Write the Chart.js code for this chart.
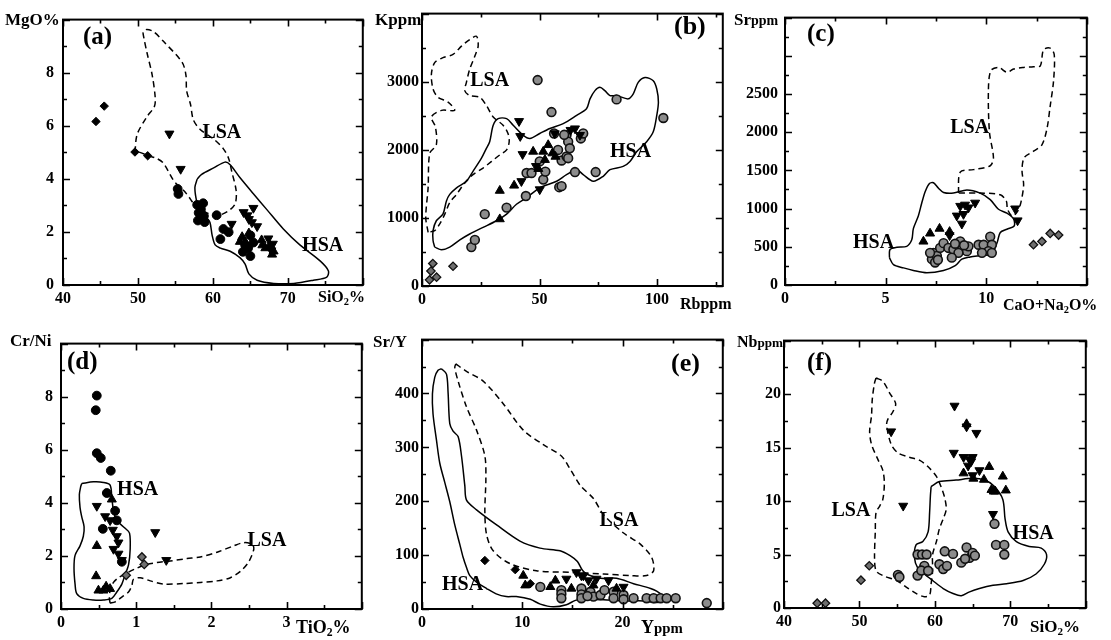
<!DOCTYPE html>
<html>
<head>
<meta charset="utf-8">
<script src="https://cdn.jsdelivr.net/npm/chart.js@4.4.1/dist/chart.umd.min.js"></script>
<style>
  html, body { margin: 0; padding: 0; background: #fff; }
  #page { position: relative; width: 1111px; height: 640px; overflow: hidden; background: #fff; }
  #page canvas { position: absolute; }
  .t { position: absolute; font-family: "Liberation Serif", "Times New Roman", serif; font-weight: bold;
       color: #000; white-space: nowrap; line-height: 1; }
  .t sub { font-size: 0.65em; vertical-align: -0.25em; line-height: 0; }
  .t small { font-size: 0.82em; }
</style>
</head>
<body>
<div id="page"></div>
<script>
// ---------- (a) MgO% vs SiO2% ----------
const aXTicks = [40, 50, 60, 70];
const aYTicks = [0, 2, 4, 6, 8];
const aDiamond = [[44.4, 6.16], [45.5, 6.74], [49.6, 5.01], [51.3, 4.87]];
const aInvTri = [[54.2, 5.7], [55.7, 4.37], [62.5, 2.3], [64.1, 2.74], [64.6, 2.62], [65.4, 2.9], [64.8, 2.48],
  [65.2, 2.36], [65.9, 2.21], [67.4, 1.75], [68.0, 1.55], [67.8, 1.3]];
const aTri = [[63.6, 1.63], [63.9, 1.81], [64.3, 1.63], [64.8, 1.95], [66.5, 1.69], [66.6, 1.5], [67.0, 1.39],
  [67.6, 1.51], [68.1, 1.27], [67.9, 1.15]];
const aCircle = [[55.3, 3.62], [55.4, 3.43], [57.9, 3.02], [58.7, 3.08], [58.1, 2.72], [58.8, 2.6], [58.0, 2.43],
  [58.9, 2.37], [58.4, 2.85], [60.5, 2.63], [61.4, 2.11], [61.0, 1.73], [62.1, 1.99], [65.0, 1.87], [64.7, 1.39],
  [65.0, 1.09], [64.3, 1.5], [65.4, 1.6], [64.0, 1.25]];
const aLSA = [[49.6, 5.01], [49.9, 5.68], [51.2, 6.34], [52.2, 6.73], [52.3, 7.07], [51.9, 7.91], [51.2, 8.76],
  [50.8, 9.3], [50.7, 9.54], [51.2, 9.63], [52.1, 9.54], [53.4, 9.18], [55.9, 8.39], [56.4, 7.91], [56.5, 7.31],
  [57.0, 6.82], [57.4, 6.22], [58.3, 5.86], [60.1, 5.5], [61.4, 5.13], [62.1, 4.77], [62.5, 4.29], [63.1, 3.56],
  [63.0, 3.08], [62.3, 2.84], [61.2, 2.66], [60.1, 2.6], [59.2, 2.72], [58.3, 2.84], [57.4, 3.08], [56.8, 3.32],
  [56.1, 3.56], [54.8, 3.92], [53.4, 4.59], [52.5, 4.77], [51.4, 4.87], [50.1, 5.01]];
const aHSA = [[57.9, 3.99], [58.5, 4.17], [60.1, 4.41], [61.6, 4.63], [62.3, 4.53], [63.6, 4.05], [65.4, 3.44],
  [67.2, 2.84], [69.4, 2.11], [71.6, 1.51], [74.3, 0.91], [75.4, 0.54], [75.2, 0.3], [73.4, 0.18], [70.8, 0.06],
  [68.1, 0.06], [65.9, 0.18], [64.8, 0.42], [64.3, 0.79], [63.6, 1.03], [62.3, 1.27], [61.0, 1.39], [60.3, 1.51],
  [59.9, 1.87], [59.6, 2.36], [59.0, 2.6], [58.2, 2.84], [57.8, 3.2], [57.6, 3.68]];

// ---------- (b) K ppm vs Rb ppm ----------
const bXTicks = [0, 50, 100];
const bYTicks = [0, 1000, 2000, 3000];
const bDiamond = [[3.2, 90], [3.8, 220], [4.6, 330], [6.2, 130], [13.2, 290]];
const bInvTri = [[41.3, 2420], [41.8, 2200], [42.8, 1935], [42.3, 1538], [50.1, 1418], [56.5, 2240], [65.1, 2312],
  [67.2, 2216], [63.2, 2290], [48.5, 1760]];
const bTri = [[33.1, 982], [33.1, 1400], [39.2, 1476], [47.3, 1974], [51.6, 1974], [53.7, 2071], [52.3, 1853],
  [49.5, 1720], [55.5, 1950], [56.8, 1900]];
const bCircle = [[21.0, 571], [22.5, 677], [26.7, 1055], [36.0, 1151], [44.2, 1321], [44.5, 1659], [46.6, 1659],
  [51.6, 1563], [49.2, 3024], [55.1, 2554], [56.2, 2240], [57.9, 1998], [59.4, 1843], [58.4, 1451], [59.4, 1466],
  [61.5, 1901], [62.2, 1877], [61.5, 2216], [62.2, 2119], [62.9, 2022], [65.1, 1673], [67.6, 2167], [68.6, 2240],
  [73.9, 1673], [82.8, 2740], [102.7, 2467], [50.1, 1829], [60.5, 2220], [52.5, 1680]];
const bLSA = [[2.6, 789], [1.6, 1007], [2.6, 1442], [3.3, 1950], [6.1, 2071], [5.7, 2337], [4.0, 2482], [8.3, 2579],
  [13.9, 2579], [11.1, 2700], [6.8, 2772], [4.7, 2893], [4.0, 3110], [5.4, 3280], [8.9, 3353], [13.2, 3401],
  [16.8, 3522], [20.3, 3619], [23.2, 3667], [23.9, 3522], [22.5, 3377], [20.3, 3183], [18.9, 2990], [18.2, 2869],
  [20.3, 2796], [24.6, 2772], [27.4, 2651], [30.3, 2482], [34.5, 2361], [36.6, 2240], [37.1, 2119], [36.0, 1998],
  [33.1, 1925], [29.6, 1829], [26.0, 1732], [21.7, 1635], [18.2, 1514], [14.7, 1345], [11.8, 1224], [9.7, 1055],
  [7.5, 910], [5.4, 813]];
const bHSA = [[5.4, 571], [8.3, 532], [11.8, 571], [16.1, 677], [20.3, 764], [26.0, 861], [31.7, 958], [36.0, 1055],
  [40.2, 1200], [44.5, 1297], [50.1, 1442], [57.3, 1538], [61.5, 1635], [65.8, 1708], [68.6, 1635], [72.9, 1538],
  [77.1, 1611], [80.0, 1708], [85.6, 1756], [88.5, 1829], [91.4, 1974], [95.6, 2119], [98.4, 2264], [99.9, 2506],
  [100.6, 2700], [99.9, 2893], [98.4, 3014], [94.9, 3062], [92.0, 2990], [89.9, 2821], [87.8, 2748], [82.8, 2796],
  [80.0, 2796], [77.8, 2869], [75.7, 2917], [73.6, 2869], [71.5, 2748], [70.0, 2603], [65.8, 2506], [60.1, 2385],
  [54.4, 2312], [50.1, 2240], [45.9, 2167], [43.0, 2216], [38.8, 2361], [36.0, 2457], [32.4, 2457], [30.3, 2361],
  [28.8, 2119], [27.4, 2022], [25.3, 1877], [21.7, 1684], [18.9, 1538], [14.7, 1442], [11.8, 1345], [10.4, 1248],
  [8.9, 1055], [6.1, 958], [4.7, 813], [4.7, 668]];

// ---------- (c) Sr ppm vs CaO+Na2O% ----------
const cXTicks = [0, 5, 10];
const cYTicks = [0, 500, 1000, 1500, 2000, 2500];
const cDiamond = [[12.35, 527], [12.77, 570], [13.18, 675], [13.6, 654]];
const cInvTri = [[8.71, 1034], [9.12, 1013], [9.45, 1076], [8.87, 928], [8.54, 907], [8.79, 801], [8.18, 650],
  [11.44, 1000], [11.56, 844], [8.95, 1050]];
const cTri = [[6.88, 570], [7.21, 675], [7.68, 738], [8.18, 696]];
const cCircle = [[7.38, 421], [7.3, 338], [7.55, 380], [7.71, 485], [7.88, 548], [8.12, 485], [8.37, 464], [8.71, 570],
  [8.79, 464], [9.04, 443], [8.62, 421], [9.12, 506], [9.62, 527], [9.87, 527], [10.2, 633], [10.28, 527], [10.11, 443],
  [9.79, 421], [10.28, 421], [8.29, 358], [7.21, 421], [7.46, 295], [7.6, 330], [8.9, 520], [8.45, 540]];
const cLSA = [[8.62, 1203], [8.71, 1477], [9.37, 1510], [10.2, 1561], [10.36, 1667], [10.16, 2004], [10.11, 2553],
  [10.23, 2806], [10.61, 2848], [11.03, 2785], [11.36, 2827], [11.86, 2848], [12.35, 2857], [12.69, 2869],
  [12.85, 3080], [13.18, 3101], [13.38, 3017], [13.35, 2679], [13.18, 2342], [13.02, 2046], [12.77, 1835],
  [12.35, 1751], [11.89, 1667], [11.78, 1498], [11.86, 1308], [11.72, 1076], [11.55, 960], [11.3, 900],
  [11.06, 991], [11.0, 1100], [10.7, 1181], [9.7, 1203]];
const cHSA = [[5.19, 359], [5.22, 464], [5.56, 494], [6.05, 506], [6.30, 591], [6.38, 738], [6.63, 907], [6.80, 1076],
  [6.97, 1224], [7.18, 1329], [7.38, 1338], [7.63, 1266], [7.88, 1211], [8.37, 1203], [9.04, 1245], [9.70, 1203],
  [10.2, 1118], [10.61, 991], [11.03, 941], [11.36, 865], [11.39, 772], [11.03, 730], [10.70, 688], [10.56, 570],
  [10.36, 443], [10.03, 392], [9.54, 380], [9.20, 367], [8.79, 338], [8.46, 253], [7.88, 190], [7.05, 160],
  [6.38, 190], [5.89, 224], [5.39, 266]];

// ---------- (d) Cr/Ni vs TiO2% ----------
const dXTicks = [0, 1, 2, 3];
const dYTicks = [0, 2, 4, 6, 8];
const dDiamond = [[1.076, 1.96], [1.107, 1.68], [0.867, 1.27]];
const dInvTri = [[0.476, 3.88], [0.587, 3.49], [0.653, 3.34], [0.689, 2.98], [0.742, 2.74], [0.764, 2.5],
  [0.698, 2.26], [0.764, 2.08], [0.809, 1.84], [1.253, 2.89], [1.4, 1.84]];
const dTri = [[0.476, 2.38], [0.467, 1.24], [0.498, 0.7], [0.564, 0.7], [0.653, 0.76], [0.676, 4.13], [0.6, 0.85]];
const dCircle = [[0.476, 8.04], [0.462, 7.49], [0.476, 5.87], [0.529, 5.69], [0.662, 5.21], [0.609, 4.37],
  [0.72, 3.70], [0.742, 3.34], [0.556, 3.02], [0.809, 1.78]];
const dLSA = [[0.653, 0.22], [0.72, 0.27], [0.809, 0.45], [0.898, 0.64], [0.942, 0.88], [0.964, 1.12], [1.053, 1.18],
  [1.187, 1.06], [1.364, 0.94], [1.631, 0.96], [1.853, 1.0], [2.076, 1.06], [2.253, 1.18], [2.387, 1.42],
  [2.497, 1.78], [2.564, 2.26], [2.542, 2.44], [2.431, 2.5], [2.297, 2.38], [2.076, 2.14], [1.853, 1.96],
  [1.676, 1.9], [1.453, 1.81], [1.276, 1.75], [1.142, 1.68], [1.009, 1.54], [0.876, 1.36], [0.764, 1.18],
  [0.698, 1.0], [0.653, 0.7], [0.644, 0.4]];
const dHSA = [[0.276, 4.73], [0.431, 4.79], [0.564, 4.77], [0.653, 4.67], [0.676, 4.19], [0.698, 3.70], [0.742, 3.34],
  [0.853, 3.04], [0.911, 2.86], [0.92, 2.26], [0.898, 1.66], [0.853, 1.30], [0.809, 0.94], [0.742, 0.64],
  [0.676, 0.40], [0.564, 0.34], [0.431, 0.34], [0.297, 0.40], [0.209, 0.58], [0.187, 0.94], [0.173, 1.54],
  [0.187, 2.02], [0.253, 2.38], [0.297, 2.74], [0.307, 3.10], [0.276, 3.47], [0.253, 3.83], [0.244, 4.31],
  [0.262, 4.61]];

// ---------- (e) Sr/Y vs Y ppm ----------
const eXTicks = [0, 10, 20];
const eYTicks = [0, 100, 200, 300, 400];
const eDiamond = [[6.27, 90], [9.3, 73], [10.8, 47]];
const eInvTri = [[14.4, 56], [15.4, 68], [16.1, 62], [16.6, 53], [17.4, 56], [18.6, 53], [20.1, 41], [15.9, 62]];
const eTri = [[10.1, 62], [10.3, 44], [12.8, 41], [13.3, 53], [14.9, 38], [17.1, 44], [19.4, 38]];
const eCircle = [[11.8, 41], [13.9, 35], [13.9, 28], [13.9, 20], [15.9, 38], [15.9, 27], [15.9, 20], [16.8, 32],
  [17.1, 23], [17.8, 26], [19.1, 32], [19.1, 20], [20.1, 26], [20.1, 18], [21.1, 20], [22.4, 20], [23.1, 20],
  [23.8, 20], [24.4, 20], [25.3, 20], [28.4, 11], [18.2, 35], [16.5, 24]];
const eLSA = [[3.37, 455], [4.44, 441], [6.1, 423], [8.1, 381], [10.1, 332], [12.1, 305], [13.9, 284], [14.8, 259],
  [15.8, 229], [17.1, 205], [18.1, 175], [20.1, 141], [21.8, 120], [22.9, 96], [23.1, 71], [22.4, 62], [20.8, 62],
  [18.1, 65], [14.8, 68], [11.4, 71], [8.8, 84], [7.1, 108], [6.44, 138], [6.27, 181], [6.37, 241], [6.27, 284],
  [5.44, 332], [4.44, 375], [3.6, 423], [3.27, 448]];
const eHSA = [[1.94, 446], [2.44, 436], [2.6, 402], [2.77, 344], [3.1, 330], [3.6, 320], [3.94, 284], [4.27, 229],
  [4.44, 202], [5.44, 184], [7.44, 156], [9.77, 126], [11.77, 113], [13.77, 108], [14.77, 99], [15.5, 88], [16.0, 72],
  [16.5, 64], [17.8, 57], [19.4, 57], [21.1, 47], [22.8, 38], [23.8, 28], [24.1, 16], [23.4, 12], [22.1, 15],
  [20.1, 15], [18.1, 17], [16.1, 18], [15.3, 16], [14.4, 8], [13.1, 4], [11.8, 9], [10.8, 18], [9.4, 23], [8.4, 23],
  [7.4, 28], [6.44, 38], [5.44, 50], [4.77, 62], [4.44, 77], [4.1, 96], [3.77, 120], [3.27, 156], [2.77, 199],
  [2.27, 235], [1.77, 271], [1.44, 314], [1.1, 362], [1.04, 399], [1.27, 430], [1.6, 443]];

// ---------- (f) Nb ppm vs SiO2% ----------
const fXTicks = [40, 50, 60, 70];
const fYTicks = [0, 5, 10, 15, 20];
const fDiamond = [[44.4, 0.45], [45.5, 0.45], [50.2, 2.6], [51.3, 3.95]];
const fInvTri = [[62.6, 18.9], [64.2, 16.96], [65.5, 16.36], [62.5, 14.5], [54.2, 16.5], [55.8, 9.55], [67.7, 8.78],
  [63.8, 14.1], [64.6, 13.9], [65.0, 14.1], [64.4, 13.3], [65.9, 12.87], [65.0, 12.4], [64.8, 13.7]];
const fTri = [[63.8, 12.6], [67.2, 13.2], [66.5, 12.0], [68.0, 10.9], [67.5, 11.05], [69.0, 12.3], [69.4, 11.0],
  [64.2, 17.2], [65.1, 12.1], [67.8, 10.9]];
const fCircle = [[55.1, 3.1], [55.3, 2.9], [57.7, 5.0], [58.3, 5.0], [58.9, 5.0], [58.6, 3.94], [57.7, 3.03],
  [58.2, 3.5], [59.1, 3.48], [60.6, 4.09], [61.3, 5.3], [61.1, 3.64], [61.6, 3.94], [62.4, 5.06], [63.5, 4.24],
  [64.2, 5.66], [64.6, 4.69], [65.0, 5.15], [64.0, 4.6], [65.3, 4.9], [68.1, 5.9], [67.9, 7.87], [69.2, 5.9],
  [69.2, 5.0]];
const fLSA = [[52.2, 21.5], [53.1, 21.2], [54.0, 20.1], [54.8, 19.1], [54.4, 18.3], [53.8, 17.7], [53.6, 17.1],
  [54.2, 15.3], [55.1, 14.5], [56.6, 14.1], [58.0, 13.8], [59.1, 13.2], [60.2, 12.3], [60.8, 11.36], [61.3, 10.3],
  [61.5, 9.24], [61.1, 8.33], [60.6, 7.42], [60.2, 6.21], [59.7, 5.0], [59.7, 3.48], [59.5, 2.27], [59.3, 1.21],
  [58.6, 1.05], [57.5, 1.36], [56.2, 1.96], [54.9, 2.57], [53.1, 3.03], [52.2, 3.48], [52.0, 4.69], [52.1, 7.12],
  [52.2, 8.94], [52.7, 9.55], [53.1, 10.15], [53.3, 11.66], [53.1, 12.87], [52.5, 13.8], [51.6, 15.3],
  [51.35, 16.5], [51.6, 18.0], [51.7, 19.5], [52.0, 21.05]];
const fHSA = [[59.5, 11.36], [60.6, 11.82], [62.8, 11.96], [65.0, 12.12], [66.6, 11.96], [67.9, 11.36], [69.0, 10.15],
  [69.3, 8.33], [69.7, 7.12], [70.8, 6.21], [72.5, 5.75], [74.1, 5.6], [74.8, 5.0], [74.5, 4.09], [73.4, 3.18],
  [71.7, 2.57], [69.5, 2.27], [67.7, 2.12], [65.9, 1.82], [64.6, 1.51], [63.5, 1.15], [62.4, 1.36], [61.1, 1.82],
  [59.7, 2.57], [58.6, 3.18], [57.7, 3.78], [57.3, 4.69], [57.5, 5.9], [58.4, 6.21], [59.1, 7.12], [59.3, 8.94],
  [59.4, 10.45]];

const serif = '"Liberation Serif", "Times New Roman", serif';

// marker looks for the sample groups
const marks = {
  dia:  { pointStyle: 'rectRot', pointRadius: 4.2, pointBackgroundColor: '#000', pointBorderColor: '#000', pointBorderWidth: 1 },
  diaG: { pointStyle: 'rectRot', pointRadius: 4.2, pointBackgroundColor: '#6f6f6f', pointBorderColor: '#111', pointBorderWidth: 1.3 },
  inv:  { pointStyle: 'triangle', pointRotation: 180, pointRadius: 5.2, pointBackgroundColor: '#000', pointBorderColor: '#000', pointBorderWidth: 1 },
  tri:  { pointStyle: 'triangle', pointRadius: 5.2, pointBackgroundColor: '#000', pointBorderColor: '#000', pointBorderWidth: 1 },
  dot:  { pointStyle: 'circle', pointRadius: 4.4, pointBackgroundColor: '#000', pointBorderColor: '#000', pointBorderWidth: 1 },
  ring: { pointStyle: 'circle', pointRadius: 4.4, pointBackgroundColor: '#8c8c8c', pointBorderColor: '#111', pointBorderWidth: 1.6 }
};

// box = [plot left, plot top, plot width, plot height]; x/y = [min, max, minor step, major step]
const panels = [
  { box: [63, 7, 300, 278], x: [40, 80, 5, 10], y: [0, 10, 1, 2], xTicks: aXTicks, yTicks: aYTicks, yPad: 9,
    fields: [[aHSA, []], [aLSA, [6, 4]]],
    groups: [[aDiamond, 'dia'], [aInvTri, 'inv'], [aTri, 'tri'], [aCircle, 'dot']],
    names: [['LSA', 58.6, 5.72], ['HSA', 71.9, 1.49]] },
  { box: [422, 7, 301, 279], x: [0, 128, 25, 50], y: [0, 4000, 500, 1000], xTicks: bXTicks, yTicks: bYTicks, yPad: 3,
    fields: [[bHSA, []], [bLSA, [6, 4]]],
    groups: [[bDiamond, 'diaG'], [bInvTri, 'inv'], [bTri, 'tri'], [bCircle, 'ring']],
    names: [['LSA', 20.5, 3018], ['HSA', 80, 1974]] },
  { box: [785, 7, 302, 278], x: [0, 15, 2.5, 5], y: [0, 3500, 250, 500], xTicks: cXTicks, yTicks: cYTicks, yPad: 7,
    fields: [[cHSA, []], [cLSA, [6, 4]]],
    groups: [[cDiamond, 'diaG'], [cInvTri, 'inv'], [cTri, 'tri'], [cCircle, 'ring']],
    names: [['LSA', 8.21, 2063], ['HSA', 3.38, 557]] },
  { box: [61, 332, 301, 277], x: [0, 4, 0.5, 1], y: [0, 10, 1, 2], xTicks: dXTicks, yTicks: dYTicks, yPad: 8,
    fields: [[dHSA, []], [dLSA, [6, 4]]],
    groups: [[dDiamond, 'diaG'], [dInvTri, 'inv'], [dTri, 'tri'], [dCircle, 'dot']],
    names: [['HSA', 0.746, 4.49], ['LSA', 2.48, 2.57]] },
  { box: [422, 333, 301, 276], x: [0, 30, 5, 10], y: [0, 500, 50, 100], xTicks: eXTicks, yTicks: eYTicks, yPad: 3,
    fields: [[eHSA, []], [eLSA, [6, 4]]],
    groups: [[eDiamond, 'dia'], [eInvTri, 'inv'], [eTri, 'tri'], [eCircle, 'ring']],
    names: [['LSA', 17.7, 164], ['HSA', 2.0, 44]] },
  { box: [784, 334, 302, 274], x: [40, 80, 5, 10], y: [0, 25, 2.5, 5], xTicks: fXTicks, yTicks: fYTicks, yPad: 3,
    fields: [[fHSA, []], [fLSA, [6, 4]]],
    groups: [[fDiamond, 'diaG'], [fInvTri, 'inv'], [fTri, 'tri'], [fCircle, 'ring']],
    names: [['LSA', 46.3, 9.1], ['HSA', 70.3, 6.9]] }
];

// axis names and panel letters: [html, left, baseline, size]
const axisNames = [
  ['MgO%', 5, 25, 17], ['SiO<sub>2</sub>%', 318, 302, 16],
  ['Kppm', 375, 25, 17], ['Rbppm', 680, 309, 16],
  ['Sr<small>ppm</small>', 734, 25, 17], ['CaO+Na<sub>2</sub>O%', 1003, 310, 16],
  ['Cr/Ni', 10, 346, 17], ['TiO<sub>2</sub>%', 296, 633, 18],
  ['Sr/Y', 373, 347, 17], ['Y<small>ppm</small>', 641, 633, 18],
  ['Nb<small>ppm</small>', 737, 347, 16], ['SiO<sub>2</sub>%', 1030, 632, 17]
];
const letters = [['(a)', 83, 44, 25], ['(b)', 674, 35, 26], ['(c)', 807, 41, 25],
  ['(d)', 67, 369, 25], ['(e)', 671, 372, 26], ['(f)', 807, 370, 25]];

const page = document.getElementById('page');
const YW = 58, XH = 24, PAD = 6;

function addText(html, left, baseline, size) {
  const el = document.createElement('div');
  el.className = 't';
  el.style.left = left + 'px';
  el.style.top = (baseline - 0.84 * size) + 'px';
  el.style.fontSize = size + 'px';
  el.innerHTML = html;
  page.appendChild(el);
}

// frame, inward ticks on all four sides and the field names
function decor(p) {
  return {
    id: 'decor',
    afterDatasetsDraw(chart) {
      const { ctx, chartArea: ca, scales } = chart;
      ctx.save();
      ctx.strokeStyle = '#000';
      ctx.lineWidth = 1.6;
      ctx.beginPath();
      ['x', 'y'].forEach(k => {
        const s = scales[k];
        const [lo, hi, minor, major] = p[k];
        for (let i = 0; lo + i * minor <= hi + 1e-9; i++) {
          const v = lo + i * minor;
          const r = v / major;
          const len = Math.abs(r - Math.round(r)) < 1e-6 ? 7 : 4;
          const px = Math.round(s.getPixelForValue(v)) + 0.5;
          if (k === 'x') {
            ctx.moveTo(px, ca.bottom); ctx.lineTo(px, ca.bottom - len);
            ctx.moveTo(px, ca.top); ctx.lineTo(px, ca.top + len);
          } else {
            ctx.moveTo(ca.left, px); ctx.lineTo(ca.left + len, px);
            ctx.moveTo(ca.right, px); ctx.lineTo(ca.right - len, px);
          }
        }
      });
      ctx.stroke();
      ctx.lineWidth = 2;
      ctx.strokeRect(ca.left, ca.top, ca.width, ca.height);
      ctx.fillStyle = '#000';
      ctx.font = 'bold 20px ' + serif;
      ctx.textBaseline = 'middle';
      p.names.forEach(([txt, vx, vy]) => {
        ctx.fillText(txt, scales.x.getPixelForValue(vx), scales.y.getPixelForValue(vy));
      });
      ctx.restore();
    }
  };
}

const pts = arr => arr.map(([x, y]) => ({ x, y }));

panels.forEach(p => {
  const [L, T, W, H] = p.box;
  const cv = document.createElement('canvas');
  cv.width = W + YW + PAD;
  cv.height = H + PAD + XH;
  cv.style.left = (L - YW) + 'px';
  cv.style.top = (T - PAD) + 'px';
  page.appendChild(cv);

  const datasets = p.groups.map(([data, look]) => Object.assign({ data: pts(data) }, marks[look]));
  p.fields.forEach(([poly, dash]) => {
    datasets.push({
      data: pts(poly.concat([poly[0]])),
      showLine: true,
      pointRadius: 0,
      borderColor: '#000',
      borderWidth: 1.5,
      borderDash: dash,
      tension: 0.3,
      fill: false
    });
  });

  const tickFont = { family: serif, size: 16, weight: 'bold' };
  new Chart(cv, {
    type: 'scatter',
    data: { datasets },
    options: {
      responsive: false,
      animation: false,
      devicePixelRatio: 1,
      events: [],
      layout: { padding: { top: PAD, right: PAD, left: 0, bottom: 0 } },
      plugins: { legend: { display: false }, tooltip: { enabled: false } },
      scales: {
        x: {
          type: 'linear', min: p.x[0], max: p.x[1],
          grid: { display: false, drawTicks: false },
          border: { display: false },
          ticks: { color: '#000', font: tickFont, padding: 4, autoSkip: false, maxRotation: 0, callback: v => String(v) },
          afterBuildTicks: s => { s.ticks = p.xTicks.map(v => ({ value: v })); },
          afterFit: s => { s.height = XH; }
        },
        y: {
          type: 'linear', min: p.y[0], max: p.y[1],
          grid: { display: false, drawTicks: false },
          border: { display: false },
          ticks: { color: '#000', font: tickFont, padding: p.yPad, autoSkip: false, callback: v => String(v) },
          afterBuildTicks: s => { s.ticks = p.yTicks.map(v => ({ value: v })); },
          afterFit: s => { s.width = YW; }
        }
      }
    },
    plugins: [decor(p)]
  });
});

axisNames.forEach(a => addText(...a));
letters.forEach(a => addText(...a));
</script>
</body>
</html>
